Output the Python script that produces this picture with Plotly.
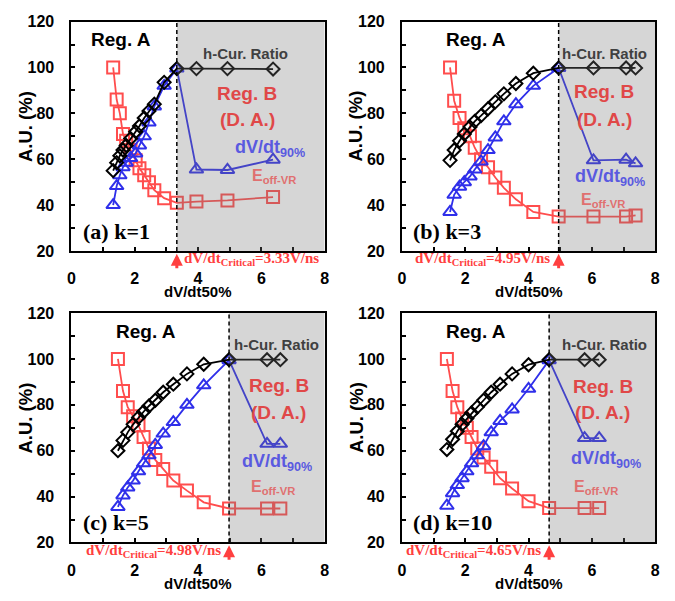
import plotly.graph_objects as go

W, H = 675, 601

# ---------------- data ----------------
x_a = [1.32, 1.43, 1.53, 1.63, 1.73, 1.87, 2.03, 2.15, 2.3, 2.45, 2.62, 2.93, 3.33, 3.95, 4.93, 6.37]
red_a = [100, 86, 80, 71, 68, 64, 59.5, 56, 53, 50, 46.5, 43, 41, 41.5, 42, 43.5]
blue_a = [40, 48.3, 53, 56.5, 58.5, 60.5, 62.5, 66, 70, 76, 83, 92, 99.5, 55.5, 55.3, 59.8]
black_a = [55, 58.5, 61.5, 64, 66, 69, 72, 74.5, 78, 81, 84, 93.5, 99.5, 99.5, 99.5, 99.3]

x_b = [1.52, 1.65, 1.82, 1.97, 2.15, 2.3, 2.5, 2.72, 2.95, 3.22, 3.6, 4.15, 4.95, 6.05, 7.08, 7.38]
red_b = [100, 85.5, 78, 73.5, 70, 65, 60, 56.5, 52, 47.5, 42.5, 37, 35, 35, 35, 35.5]
blue_b = [37, 44.5, 48, 50, 52.5, 55.5, 59, 64, 69.5, 76.5, 84, 92, 99.8, 59.5, 59.8, 58.2]
black_b = [59.5, 64, 68, 71, 74, 76.5, 79, 82, 85, 88.5, 93, 97.5, 99.8, 99.8, 99.8, 99.8]

x_c = [1.47, 1.63, 1.78, 1.95, 2.12, 2.28, 2.45, 2.65, 2.9, 3.22, 3.65, 4.18, 4.98, 6.18, 6.6]
red_c = [100, 86, 79, 75, 71, 66, 61, 56, 52, 47, 42.6, 37.5, 34.8, 34.8, 34.8]
blue_c = [35.5, 40.5, 44, 47, 51, 54.5, 58, 62.5, 67.5, 72.5, 80, 88.5, 99.5, 63, 63]
black_c = [60, 64.5, 68, 71.5, 74.5, 77, 79.5, 82, 85.5, 89, 93.5, 97.7, 99.7, 99.7, 99.7]

x_d = [1.42, 1.6, 1.75, 1.9, 2.05, 2.2, 2.38, 2.58, 2.82, 3.1, 3.48, 4.0, 4.65, 5.77, 6.23]
red_d = [100, 86, 79, 74, 70, 66, 61, 57, 53, 48, 43.5, 38, 35, 35, 35]
blue_d = [36, 41.5, 45, 48, 51, 54.5, 58, 62, 68, 73, 78, 87, 99.5, 65.5, 65.5]
black_d = [60.5, 65, 68.5, 71.5, 74, 76.5, 79, 82, 85.5, 89, 93.5, 97.5, 99.7, 99.7, 99.7]

critical = [3.33, 4.95, 4.98, 4.65]
panel_labels = ["(a) k=1", "(b) k=3", "(c) k=5", "(d) k=10"]
x_ticks = [0, 2, 4, 6, 8]
y_ticks = [20, 40, 60, 80, 100, 120]

# ---------------- layout helpers ----------------
def px_x(p):
    return p / W

def px_y(p):
    return 1 - p / H

col_dom = [[px_x(68.3), px_x(325)], [px_x(403.3), px_x(660)]]
row_dom = [[px_y(250), px_y(14)], [px_y(550), px_y(314)]]
row_pix = [(14, 250), (314, 550)]
col_pix = [(68.3, 325), (403.3, 660)]
PLOT_H = 236.0

RED = "#FF4D4D"
BLUE = "#2F2FEA"
BLACK = "#000000"
SANS = "Liberation Sans, Arial, sans-serif"
SERIF = "Liberation Serif, Times New Roman, serif"

panels = [
    (x_a, red_a, blue_a, black_a),
    (x_b, red_b, blue_b, black_b),
    (x_c, red_c, blue_c, black_c),
    (x_d, red_d, blue_d, black_d),
]

# text placement per panel (data coords)
regA_x = [1.58, 2.33, 2.36, 2.33]
hcur_x = [5.51, 6.39, 6.47, 6.39]
regB_x = [5.56, 6.39, 6.55, 6.34]
regB_y = [88.5, 89.5, 88.5, 88]
da_y = [77.5, 77.5, 76.5, 76.5]
dvdt_x = [6.26, 6.57, 6.51, 6.44]
dvdt_y = [64.5, 52, 55, 56]
eoff_x = [6.41, 6.36, 6.36, 6.13]
eoff_y = [52.5, 42, 44, 44]

fig = go.Figure()
annotations = []
shapes = []
layout_axes = {}

for i, (xs, rs, bs, ks) in enumerate(panels):
    r, c = divmod(i, 2)
    n = i + 1
    xa = "x" if n == 1 else f"x{n}"
    ya = "y" if n == 1 else f"y{n}"
    xkey = "xaxis" if n == 1 else f"xaxis{n}"
    ykey = "yaxis" if n == 1 else f"yaxis{n}"

    fig.add_trace(go.Scatter(
        x=xs, y=rs, mode="lines+markers", xaxis=xa, yaxis=ya,
        line=dict(color=RED, width=1.8),
        marker=dict(symbol="square-open", size=12, color=RED, line=dict(width=2, color=RED)),
        showlegend=False, cliponaxis=False))
    fig.add_trace(go.Scatter(
        x=xs, y=bs, mode="lines+markers", xaxis=xa, yaxis=ya,
        line=dict(color=BLUE, width=1.8),
        marker=dict(symbol="triangle-up-open", size=12, color=BLUE, line=dict(width=2, color=BLUE)),
        showlegend=False, cliponaxis=False))
    fig.add_trace(go.Scatter(
        x=xs, y=ks, mode="lines+markers", xaxis=xa, yaxis=ya,
        line=dict(color=BLACK, width=1.8),
        marker=dict(symbol="diamond-open", size=10, color=BLACK, line=dict(width=2, color=BLACK)),
        showlegend=False, cliponaxis=False))

    layout_axes[xkey] = dict(
        domain=col_dom[c], anchor=ya, range=[0, 8], tickvals=x_ticks,
        ticktext=[str(v) for v in x_ticks],
        ticks="inside", ticklen=4, tickwidth=1.5, tickcolor="black",
        minor=dict(dtick=1, tick0=0, ticks="inside", ticklen=4, tickwidth=1.5, tickcolor="black"),
        showline=True, linewidth=2, linecolor="black", mirror=True,
        showgrid=False, zeroline=False,
        tickfont=dict(family=SANS, size=16, color="black", weight="bold"),
        ticklabelstandoff=12, fixedrange=True)
    layout_axes[ykey] = dict(
        domain=row_dom[r], anchor=xa, range=[20, 120], tickvals=y_ticks,
        ticks="inside", ticklen=4, tickwidth=1.5, tickcolor="black",
        minor=dict(dtick=10, tick0=0, ticks="inside", ticklen=4, tickwidth=1.5, tickcolor="black"),
        showline=True, linewidth=2, linecolor="black", mirror=True,
        showgrid=False, zeroline=False,
        tickfont=dict(family=SANS, size=16, color="black", weight="bold"),
        ticklabelstandoff=12, fixedrange=True)

    cx = critical[i]
    shapes.append(dict(type="rect", xref=xa, yref=ya, x0=cx, x1=8, y0=20, y1=120,
                       fillcolor="rgba(120,120,120,0.3)", line=dict(width=0), layer="above"))
    shapes.append(dict(type="line", xref=xa, yref=ya, x0=cx, x1=cx, y0=20, y1=120,
                       line=dict(color="black", width=1.5, dash="4px,3px"), layer="above"))

    def ann(text, x, y, size, color, family=SANS, bold=True, xanchor="center", yref=ya, **kw):
        d = dict(text=text, x=x, y=y, xref=xa, yref=yref, showarrow=False,
                 xanchor=xanchor, yanchor="middle",
                 font=dict(family=family, size=size, color=color,
                           weight="bold" if bold else "normal"))
        d.update(kw)
        annotations.append(d)

    ann("Reg. A", regA_x[i], 112, 19, "black")
    ann("h-Cur. Ratio", hcur_x[i], 106.2, 15, "#404040")
    ann("Reg. B", regB_x[i], regB_y[i], 19, "#E04848")
    ann("(D. A.)", regB_x[i], da_y[i], 19, "#E04848")
    ann("dV/dt<sub>90%</sub>", dvdt_x[i], dvdt_y[i], 18, "#5A5AE0")
    ann("E<sub>off-VR</sub>", eoff_x[i], eoff_y[i], 16, "#E07070")
    ann(panel_labels[i], 0.3, 28.5, 22, "black", family=SERIF, xanchor="left")

    # critical annotation (below the x axis, in domain coordinates)
    crit_text = f"dV/dt<sub>Critical</sub>={cx:.2f}V/ns"
    yd = f"{ya} domain"
    text_y = -8.5 / PLOT_H
    if i == 0:
        ann(crit_text, cx + 0.17, text_y, 15, "#FF4040", family=SERIF, xanchor="left", yref=yd)
    else:
        ann(crit_text, cx - 0.2, text_y, 15, "#FF4040", family=SERIF, xanchor="right", yref=yd)
    annotations.append(dict(x=cx, y=-3 / PLOT_H, xref=xa, yref=yd, ax=0, ay=16,
                            showarrow=True, arrowhead=2, arrowsize=0.8, arrowwidth=3,
                            arrowcolor="#FF4040", text=""))

    # axis titles
    x0p, x1p = col_pix[c]
    y0p, y1p = row_pix[r]
    annotations.append(dict(text="dV/dt50%", x=px_x((x0p + x1p) / 2), y=px_y(y1p + 42),
                            xref="paper", yref="paper", showarrow=False,
                            xanchor="center", yanchor="middle",
                            font=dict(family=SANS, size=15, color="black", weight="bold")))
    annotations.append(dict(text="A.U. (%)", x=px_x(x0p - 46.5), y=px_y((y0p + y1p) / 2 - 10),
                            xref="paper", yref="paper", showarrow=False, textangle=-90,
                            xanchor="center", yanchor="middle",
                            font=dict(family=SANS, size=18.5, color="black", weight="bold")))

fig.update_layout(
    width=W, height=H, margin=dict(l=0, r=0, t=0, b=0),
    paper_bgcolor="white", plot_bgcolor="white",
    annotations=annotations, shapes=shapes, showlegend=False,
    **layout_axes)

fig.write_html("out.html")
